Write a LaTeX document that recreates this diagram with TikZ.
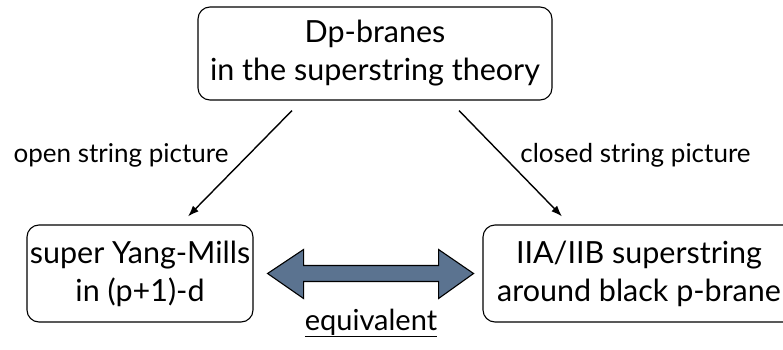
\documentclass[tikz,border=0pt]{standalone}
\usepackage{fontspec}
\setmainfont{Lato}
\usetikzlibrary{arrows.meta}
\definecolor{arrowfill}{HTML}{5B7390}
\begin{document}
\begin{tikzpicture}[x=1pt,y=-1pt,
 box/.style={draw,rounded corners=12pt,line width=1.1pt,align=center,inner sep=0pt,font=\fontsize{30.5}{38}\selectfont},
 lbl/.style={font=\fontsize{26}{30}\selectfont,anchor=base},
 conn/.style={-{Latex[length=11pt,width=8pt]},line width=1.4pt},
 fatarrow/.style={draw=black,line width=1.1pt,fill=arrowfill,line join=miter}]
\useasboundingbox (0,0) rectangle (783,350);
\clip (0,0) rectangle (783,350);
\node[box,minimum width=354pt,minimum height=93pt] (top) at (375,53.5) {Dp-branes\\in the superstring theory};
\node[box,minimum width=226pt,minimum height=97pt] (left) at (140,273.5) {super Yang-Mills\\in (p+1)-d};
\node[box,minimum width=312pt,minimum height=97pt] (right) at (639,273.5) {IIA/IIB superstring\\around black p-brane};
\draw[conn] ([xshift=-83pt,yshift=-10pt]top.south) -- ([xshift=48pt,yshift=8pt]left.north);
\draw[conn] ([xshift=84pt,yshift=-10pt]top.south) -- ([xshift=-77pt,yshift=8pt]right.north);
\node[lbl] (ol) at (121,162) {open string picture};
\node[lbl] (cl) at (635.5,162) {closed string picture};
\draw[fatarrow] ([xshift=14pt]left.east) -- ++(36,-24) -- ++(0,16) -- ++(135,0) -- ++(0,-16) -- ++(35,24) -- ++(-35,25) -- ++(0,-17) -- ++(-135,0) -- ++(0,17) -- cycle;
\node[lbl,font=\fontsize{29}{32}\selectfont] (eq) at (371,330) {\underline{equivalent}};
\end{tikzpicture}
\end{document}
